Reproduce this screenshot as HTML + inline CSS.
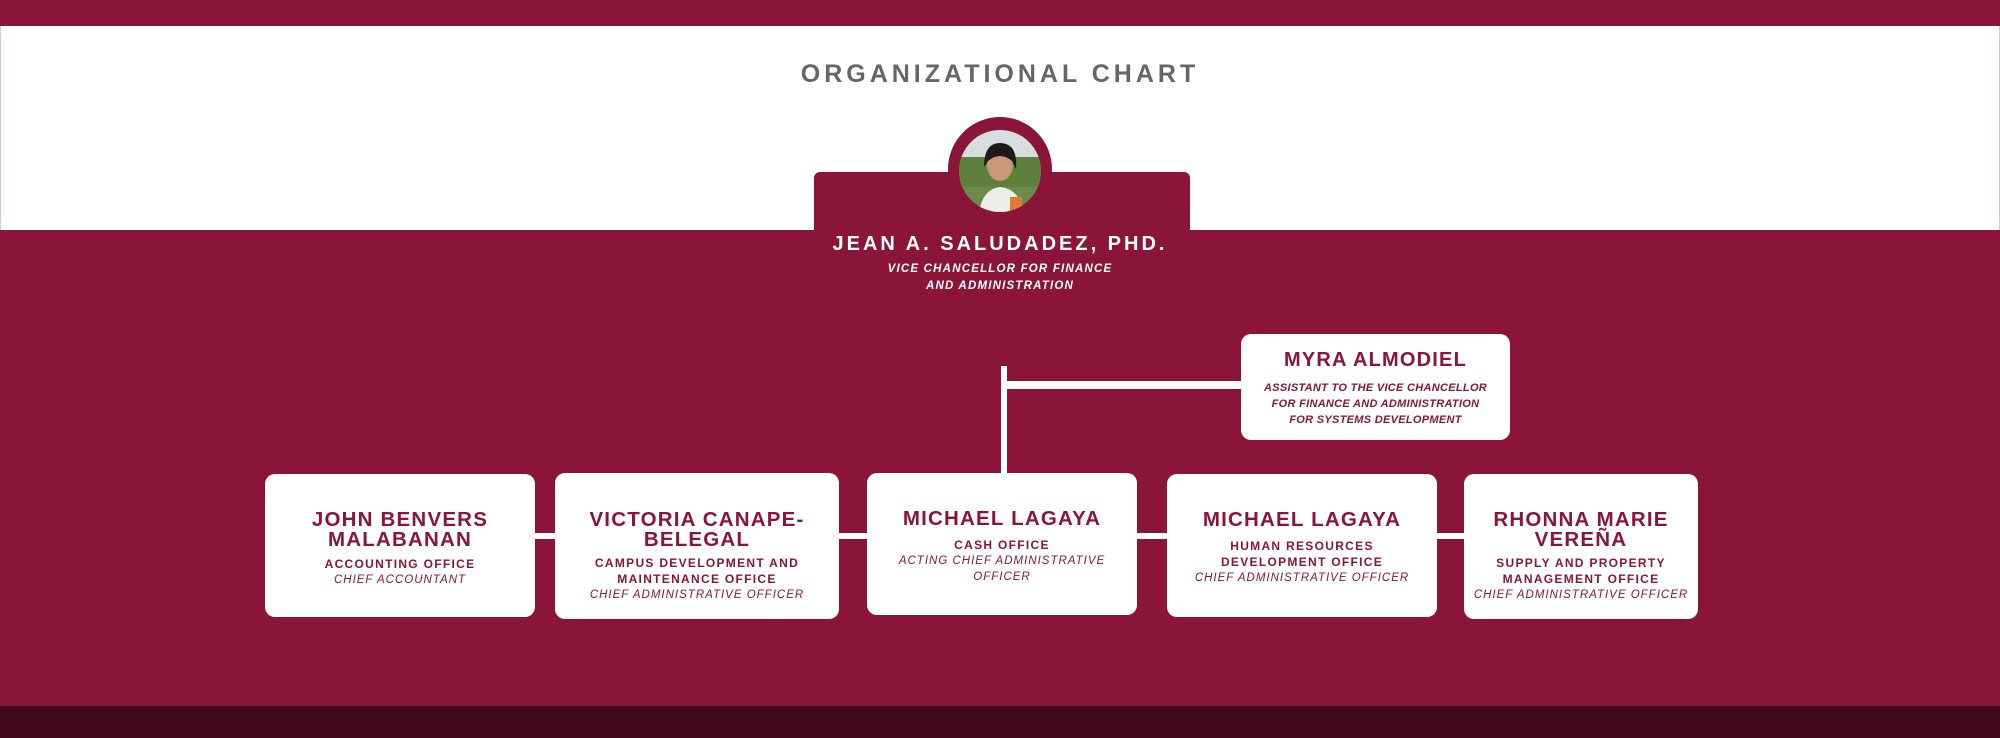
<!DOCTYPE html>
<html><head><meta charset="utf-8"><style>
*{margin:0;padding:0;box-sizing:border-box}
body{width:2000px;height:738px;position:relative;overflow:hidden;background:#fff;font-family:"Liberation Sans",sans-serif}
.a{position:absolute}
.red{background:#8b1538}
.box{position:absolute;background:#fff;border-radius:10px;color:#8b1538;text-align:center;white-space:nowrap}
.nm{font-weight:bold;font-size:20.5px;letter-spacing:1.2px;line-height:20px}
.of{font-weight:bold;font-size:12px;letter-spacing:1.3px;line-height:16px}
.it{font-style:italic;font-size:11.5px;letter-spacing:1px;line-height:16px}
</style></head><body>
<div class="a red" style="left:0;top:0;width:2000px;height:26px"></div>
<div class="a" style="left:0;top:26px;width:2000px;height:204px;border-left:1px solid #e8c6d0;border-right:1px solid #e8c6d0"></div>
<div class="a red" style="left:0;top:230px;width:2000px;height:476px"></div>
<div class="a" style="left:0;top:706px;width:2000px;height:32px;background:#420a1c"></div>
<div class="a" style="left:0;top:58px;width:2000px;text-align:center;color:#666;font-weight:bold;font-size:25px;letter-spacing:4px;line-height:32px">ORGANIZATIONAL CHART</div>
<div class="a red" style="left:814px;top:172px;width:376px;height:70px;border-radius:6px 6px 0 0"></div>
<svg class="a" style="left:948px;top:117px" width="104" height="104" viewBox="0 0 104 104">
<circle cx="52" cy="52" r="52" fill="#8b1538"/>
<clipPath id="c"><circle cx="52" cy="54" r="41"/></clipPath>
<g clip-path="url(#c)">
<rect width="104" height="104" fill="#6d8a4a"/>
<rect x="0" y="0" width="104" height="40" fill="#d8dde0"/>
<rect x="0" y="40" width="104" height="30" fill="#5f7f3c"/>
<path d="M30 104 Q32 72 52 70 Q74 72 78 104Z" fill="#eeeeea"/>
<ellipse cx="52" cy="48" rx="13" ry="16" fill="#c89878"/>
<path d="M36 50 Q36 26 52 26 Q70 26 68 52 L64 44 Q52 34 40 44Z" fill="#1d1a1a"/>
<rect x="62" y="80" width="12" height="14" fill="#e07a30"/>
</g></svg>
<div class="a" style="left:700px;top:230px;width:600px;text-align:center;color:#fff;font-weight:bold;font-size:20px;letter-spacing:3px;line-height:28px">JEAN A. SALUDADEZ, PHD.</div>
<div class="a" style="left:700px;top:261px;width:600px;text-align:center;color:#fff;font-weight:bold;font-style:italic;font-size:11.5px;letter-spacing:1.2px;line-height:17px">VICE CHANCELLOR FOR FINANCE<br>AND ADMINISTRATION</div>
<div class="a" style="left:1001px;top:366px;width:6px;height:110px;background:#fff"></div>
<div class="a" style="left:1004px;top:381px;width:240px;height:8px;background:#fff"></div>
<div class="a" style="left:530px;top:533px;width:1000px;height:6px;background:#fff"></div>
<div class="box" style="left:1241px;top:334px;width:269px;height:106px">
<div class="nm" style="margin-top:16px;font-size:20px">MYRA ALMODIEL</div>
<div class="of" style="margin-top:10px;font-style:italic;font-size:11px;letter-spacing:0.3px;line-height:16px">ASSISTANT TO THE VICE CHANCELLOR<br>FOR FINANCE AND ADMINISTRATION<br>FOR SYSTEMS DEVELOPMENT</div></div>
<div class="box" style="left:265px;top:474px;width:270px;height:143px">
<div class="nm" style="margin-top:36px">JOHN BENVERS<br>MALABANAN</div>
<div class="of" style="margin-top:6px">ACCOUNTING OFFICE</div>
<div class="it">CHIEF ACCOUNTANT</div></div>
<div class="box" style="left:555px;top:473px;width:284px;height:146px">
<div class="nm" style="margin-top:37px">VICTORIA CANAPE-<br>BELEGAL</div>
<div class="of" style="margin-top:5px">CAMPUS DEVELOPMENT AND<br>MAINTENANCE OFFICE</div>
<div class="it">CHIEF ADMINISTRATIVE OFFICER</div></div>
<div class="box" style="left:867px;top:473px;width:270px;height:142px">
<div class="nm" style="margin-top:36px">MICHAEL LAGAYA</div>
<div class="of" style="margin-top:8px">CASH OFFICE</div>
<div class="it">ACTING CHIEF ADMINISTRATIVE<br>OFFICER</div></div>
<div class="box" style="left:1167px;top:474px;width:270px;height:143px">
<div class="nm" style="margin-top:36px">MICHAEL LAGAYA</div>
<div class="of" style="margin-top:8px">HUMAN RESOURCES<br>DEVELOPMENT OFFICE</div>
<div class="it">CHIEF ADMINISTRATIVE OFFICER</div></div>
<div class="box" style="left:1464px;top:474px;width:234px;height:145px">
<div class="nm" style="margin-top:36px">RHONNA MARIE<br>VEREÑA</div>
<div class="of" style="margin-top:5px">SUPPLY AND PROPERTY<br>MANAGEMENT OFFICE</div>
<div class="it">CHIEF ADMINISTRATIVE OFFICER</div></div>
</body></html>
